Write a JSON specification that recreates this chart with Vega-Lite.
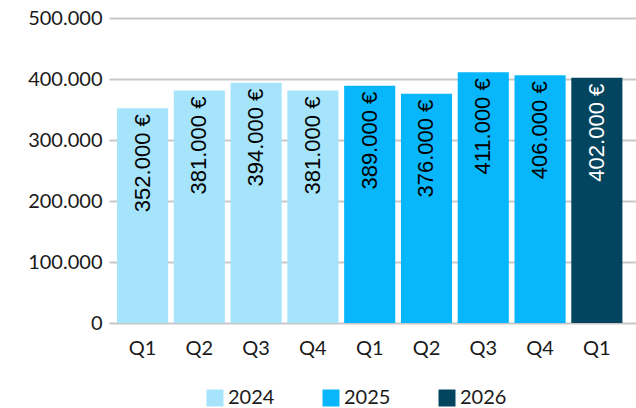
{
  "$schema": "https://vega.github.io/schema/vega-lite/v6.json",
  "width": 527,
  "height": 305,
  "autosize": {"type": "none"},
  "padding": {"left": 109, "top": 18, "right": 0, "bottom": 85},
  "background": "white",
  "config": {
    "locale": {
      "number": {"decimal": ",", "thousands": ".", "grouping": [3], "currency": ["", " €"]}
    },
    "view": {"stroke": null},
    "axis": {"labelFont": "Lato", "labelFontSize": 20, "labelColor": "#1a1a1a", "title": null}
  },
  "data": {
    "values": [
      {"period": "2024-Q1", "year": "2024", "value": 352000},
      {"period": "2024-Q2", "year": "2024", "value": 381000},
      {"period": "2024-Q3", "year": "2024", "value": 394000},
      {"period": "2024-Q4", "year": "2024", "value": 381000},
      {"period": "2025-Q1", "year": "2025", "value": 389000},
      {"period": "2025-Q2", "year": "2025", "value": 376000},
      {"period": "2025-Q3", "year": "2025", "value": 411000},
      {"period": "2025-Q4", "year": "2025", "value": 406000},
      {"period": "2026-Q1", "year": "2026", "value": 402000}
    ]
  },
  "encoding": {
    "x": {
      "field": "period",
      "type": "nominal",
      "sort": null,
      "scale": {"paddingInner": 0.1, "paddingOuter": 0.19, "align": 0.37},
      "axis": {
        "labelAngle": 0,
        "labelExpr": "split(datum.label, '-')[1]",
        "domain": false,
        "ticks": false,
        "labelPadding": 15
      }
    },
    "y": {
      "field": "value",
      "type": "quantitative",
      "scale": {"domain": [0, 500000]},
      "axis": {
        "values": [0, 100000, 200000, 300000, 400000, 500000],
        "format": ",d",
        "domain": false,
        "ticks": false,
        "labelPadding": 7,
        "grid": true,
        "gridColor": "#c8c8c8",
        "gridWidth": 2
      }
    }
  },
  "layer": [
    {
      "mark": {"type": "bar"},
      "encoding": {
        "color": {
          "field": "year",
          "type": "nominal",
          "scale": {"domain": ["2024", "2025", "2026"], "range": ["#a6e4fc", "#08b6fc", "#03455f"]},
          "legend": {
            "title": null,
            "orient": "none",
            "direction": "horizontal",
            "legendX": 96,
            "legendY": 370,
            "symbolType": "square",
            "symbolSize": 289,
            "symbolStrokeWidth": 0,
            "symbolOpacity": 1,
            "labelFont": "Lato",
            "labelFontSize": 20,
            "labelColor": "#1a1a1a",
            "labelOffset": 3,
            "columnPadding": 46
          }
        }
      }
    },
    {
      "mark": {"type": "text", "angle": 270, "align": "right", "baseline": "middle", "dx": -6, "font": "Liberation Sans", "fontSize": 22},
      "encoding": {
        "text": {"field": "value", "type": "quantitative", "format": "$,d"},
        "color": {
          "condition": {"test": "datum.year === '2026'", "value": "white"},
          "value": "black"
        }
      }
    }
  ]
}
